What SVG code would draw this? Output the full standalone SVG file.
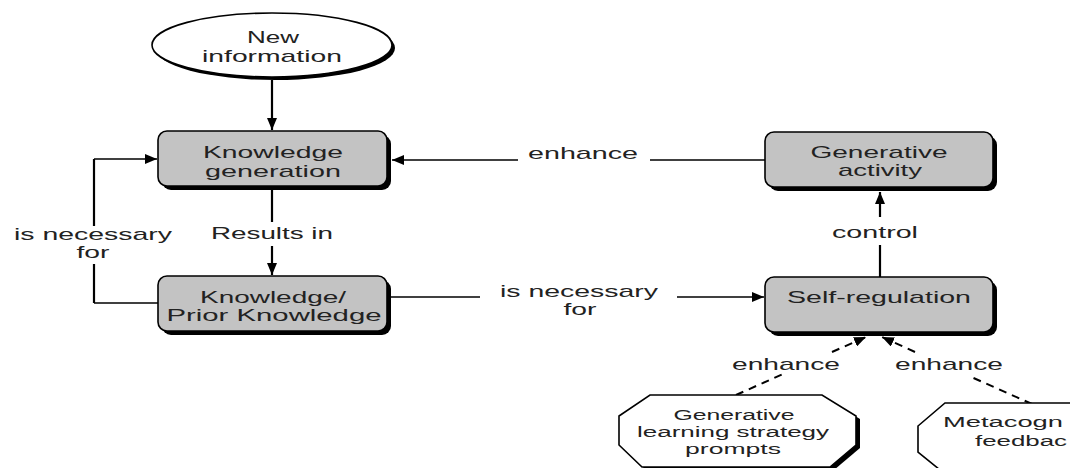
<svg xmlns="http://www.w3.org/2000/svg" width="1070" height="468" viewBox="0 0 1070 468">
<style>
.t{font-family:"Liberation Sans",Arial,sans-serif;font-size:17px;fill:#222;text-anchor:middle}
.s{font-size:15.5px}
.a{text-anchor:start}
.box{fill:#c3c3c3;stroke:#000;stroke-width:1.6}
.sh{fill:#000;stroke:none}
.oct{fill:#fff;stroke:#000;stroke-width:1.6}
.ln{fill:none;stroke:#000;stroke-width:1.4}
.v{stroke-width:2.2}
.d{fill:none;stroke:#000;stroke-width:2;stroke-dasharray:8 6}
</style>
<defs>
<marker id="ah" markerUnits="userSpaceOnUse" markerWidth="12" markerHeight="10" refX="12" refY="5" orient="auto">
<path d="M0,0 L12,5 L0,10 z" fill="#000"/>
</marker>
</defs>
<rect width="1070" height="468" fill="#fff"/>

<g id="connectors">
<line class="ln v" x1="272" y1="80" x2="272" y2="130" marker-end="url(#ah)"/>
<line class="ln v" x1="272" y1="190" x2="272" y2="222"/>
<line class="ln v" x1="272" y1="246" x2="272" y2="275" marker-end="url(#ah)"/>
<path class="ln" d="M158,303 H94"/>
<line class="ln v" x1="94" y1="303" x2="94" y2="264"/>
<line class="ln v" x1="94" y1="226" x2="94" y2="159"/>
<path class="ln" d="M94,159 H157" marker-end="url(#ah)"/>
<path class="ln" d="M765,160 H650"/>
<path class="ln" d="M518,160 H392" marker-end="url(#ah)"/>
<path class="ln" d="M391,297 H480"/>
<path class="ln" d="M677,297 H764" marker-end="url(#ah)"/>
<line class="ln v" x1="880" y1="277" x2="880" y2="245"/>
<line class="ln v" x1="880" y1="217" x2="880" y2="192" marker-end="url(#ah)"/>
<path class="d" d="M736,395 L783,374"/>
<path class="d" d="M832,352 L866,337" marker-end="url(#ah)"/>
<path class="d" d="M1032,404 L969,376"/>
<path class="d" d="M915,352 L882,337" marker-end="url(#ah)"/>
<text class="t" x="272" y="239" textLength="122" lengthAdjust="spacingAndGlyphs">Results in</text>
<text class="t" x="93" y="240" textLength="158" lengthAdjust="spacingAndGlyphs">is necessary</text>
<text class="t" x="93" y="258" textLength="33" lengthAdjust="spacingAndGlyphs">for</text>
<text class="t" x="583" y="159" textLength="110" lengthAdjust="spacingAndGlyphs">enhance</text>
<text class="t" x="579" y="297" textLength="158" lengthAdjust="spacingAndGlyphs">is necessary</text>
<text class="t" x="580" y="315" textLength="33" lengthAdjust="spacingAndGlyphs">for</text>
<text class="t" x="875" y="238" textLength="86" lengthAdjust="spacingAndGlyphs">control</text>
<text class="t" x="786" y="370" textLength="108" lengthAdjust="spacingAndGlyphs">enhance</text>
<text class="t" x="949" y="370" textLength="108" lengthAdjust="spacingAndGlyphs">enhance</text>
</g>

<g id="new-information">
<ellipse class="sh" cx="275" cy="48" rx="120" ry="32"/>
<ellipse cx="272" cy="45" rx="120" ry="32" fill="#fff" stroke="#000" stroke-width="1.6"/>
<text class="t" x="273" y="43" textLength="52" lengthAdjust="spacingAndGlyphs">New</text>
<text class="t" x="272" y="62" textLength="140" lengthAdjust="spacingAndGlyphs">information</text>
</g>

<g id="knowledge-generation">
<rect class="sh" x="162" y="135" width="229" height="55" rx="9"/>
<rect class="box" x="158" y="131" width="229" height="55" rx="9"/>
<text class="t" x="273" y="158" textLength="140" lengthAdjust="spacingAndGlyphs">Knowledge</text>
<text class="t" x="273" y="177" textLength="136" lengthAdjust="spacingAndGlyphs">generation</text>
</g>

<g id="prior-knowledge">
<rect class="sh" x="162" y="280" width="229" height="55" rx="9"/>
<rect class="box" x="158" y="276" width="229" height="55" rx="9"/>
<text class="t" x="273" y="303" textLength="146" lengthAdjust="spacingAndGlyphs">Knowledge/</text>
<text class="t" x="274" y="321" textLength="215" lengthAdjust="spacingAndGlyphs">Prior Knowledge</text>
</g>

<g id="generative-activity">
<rect class="sh" x="769" y="136" width="228" height="55" rx="9"/>
<rect class="box" x="765" y="132" width="228" height="55" rx="9"/>
<text class="t" x="879" y="158" textLength="137" lengthAdjust="spacingAndGlyphs">Generative</text>
<text class="t" x="880" y="176" textLength="84" lengthAdjust="spacingAndGlyphs">activity</text>
</g>

<g id="self-regulation">
<rect class="sh" x="769" y="281" width="228" height="55" rx="9"/>
<rect class="box" x="765" y="277" width="228" height="55" rx="9"/>
<text class="t" x="879" y="303" textLength="184" lengthAdjust="spacingAndGlyphs">Self-regulation</text>
</g>

<g id="prompts">
<polygon class="sh" points="654,398 826,398 860,419 860,448 834,470 646,470 623,448 623,419"/>
<polygon class="oct" points="650,395 822,395 856,416 856,445 830,467 642,467 619,445 619,416"/>
<text class="t s" x="734" y="420" textLength="121" lengthAdjust="spacingAndGlyphs">Generative</text>
<text class="t s" x="733" y="437" textLength="192" lengthAdjust="spacingAndGlyphs">learning strategy</text>
<text class="t s" x="733" y="454" textLength="96" lengthAdjust="spacingAndGlyphs">prompts</text>
</g>

<g id="feedback">
<polygon class="sh" points="949,406 1104,406 1144,429 1144,455 1104,477 949,477 922,455 922,429"/>
<polygon class="oct" points="945,403 1100,403 1140,426 1140,452 1100,474 945,474 918,452 918,426"/>
<text class="t s a" x="943" y="427" textLength="120" lengthAdjust="spacingAndGlyphs">Metacogn</text>
<text class="t s a" x="975" y="446" textLength="92" lengthAdjust="spacingAndGlyphs">feedbac</text>
</g>
</svg>
